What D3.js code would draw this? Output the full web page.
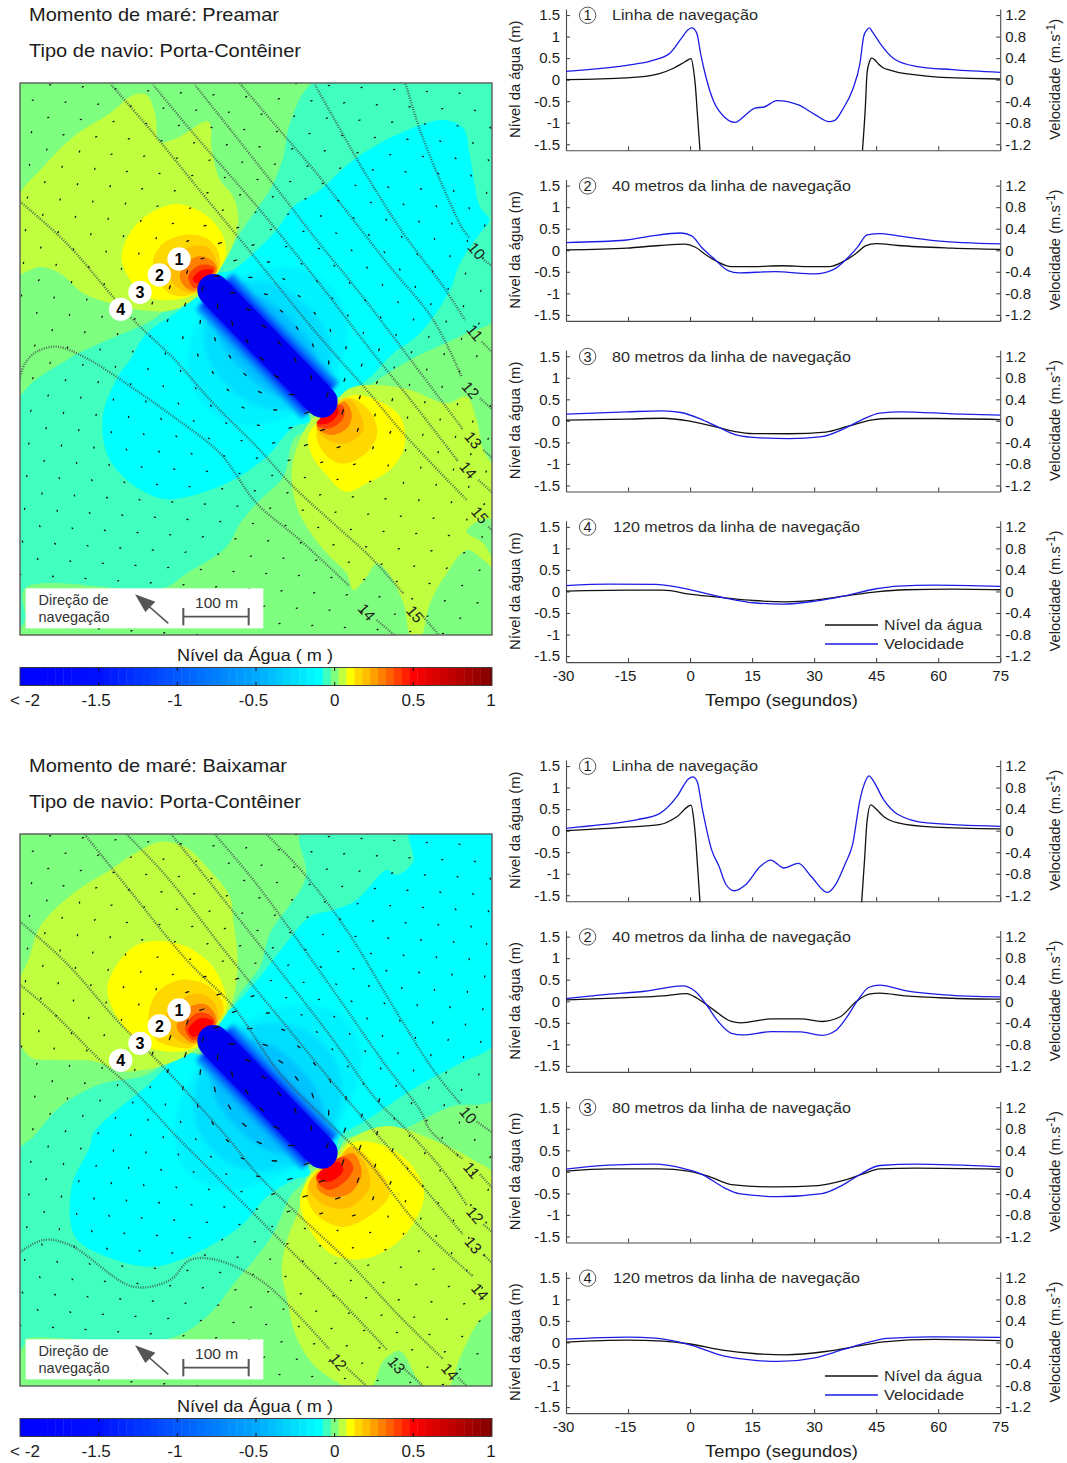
<!DOCTYPE html>
<html>
<head>
<meta charset="utf-8">
<script src="https://cdn.jsdelivr.net/npm/d3@7"></script>
<style>
	body { margin:0; background:#fff; }
	text { font-family:"Liberation Sans", Arial, sans-serif; fill:#1c1c1c; }
	.axis path, .axis line { stroke:#4a4a4a; stroke-width:1.1; }
	.axis text { font-size:15px; fill:#1c1c1c; font-family:"Liberation Sans", Arial, sans-serif; }
</style>
</head>
<body>
<script>
// colour scale of the water level map
var stopValues = [-2, -1.5, -1, -0.5, -0.1, -0.05, 0, 0.05, 0.1, 0.15, 0.2, 0.3, 0.4, 0.5, 0.75, 1];
var stopColors = ["#0000ff","#0010ff","#0058ff","#00a8ff","#00ffff","#3fffbf","#7fff7f","#bfff3f","#ffff00","#ffd800","#ffbf00","#ff8000","#ff4000","#ff0000","#bf0000","#7f0000"];
var barLevels = [-2,-1.95,-1.9,-1.85,-1.8,-1.75,-1.7,-1.65,-1.6,-1.55,-1.5,-1.45,-1.4,-1.35,-1.3,-1.25,-1.2,-1.15,-1.1,-1.05,-1,-0.95,-0.9,-0.85,-0.8,-0.75,-0.7,-0.65,-0.6,-0.55,-0.5,-0.45,-0.4,-0.35,-0.3,-0.25,-0.2,-0.15,-0.1,-0.05,0,0.05,0.1,0.15,0.2,0.25,0.3,0.35,0.4,0.45,0.5,0.55,0.6,0.65,0.7,0.75,0.8,0.85,0.9,0.95];
var barTicks = [-1.5, -1, -0.5, 0, 0.5];
var barLabels = [["< -2",-2],["-1.5",-1.5],["-1",-1],["-0.5",-0.5],["0",0],["0.5",0.5],["1",1]];

var levelTicks = [-1.5,-1,-0.5,0,0.5,1,1.5];
var speedTicks = [-1.2,-0.8,-0.4,0,0.4,0.8,1.2];
var timeTicks = [-30,-15,0,15,30,45,60,75];
var panelNames = ["Linha de navegação","40 metros da linha de navegação","80 metros da linha de navegação","120 metros da linha de navegação"];
var panelNameWidths = [146,239,239,247];

// Preamar series (time in s, level in m, speed in m/s), null = off the chart
var tPre1N = [-30,-15.3,-7.4,-3.9,-1.3,0.25,0.9,1.3,1.7,2.4,null,41.7,42.4,42.8,43.3,43.9,44.6,45.5,46.8,48.1,50.3,54.6,59.9,67.7,75];
var nivelPre1 = [0,0.04,0.14,0.27,0.41,0.49,0.19,-0.155,-0.7,-1.64,null,-1.64,-0.62,0.155,0.39,0.5,0.465,0.37,0.27,0.23,0.17,0.11,0.06,0.03,0.015];
var tPre1V = [-30,-15.3,-9.2,-4.8,-2.2,-0.4,0.4,1.6,2.6,3.9,5.7,8.3,10.9,13.5,15.7,17.9,21,26.2,30.2,33.6,35,37.1,39.3,41.1,42,42.8,43.4,44.1,45.9,49.4,54.6,63.4,75];
var velPre1 = [0.155,0.267,0.353,0.496,0.756,0.93,0.96,0.868,0.465,0.03,-0.403,-0.694,-0.794,-0.65,-0.527,-0.508,-0.39,-0.47,-0.65,-0.78,-0.756,-0.527,-0.186,0.31,0.806,0.93,0.96,0.887,0.68,0.384,0.248,0.186,0.136];

var tPre2N = [-30,-15.3,-7.4,-1.3,1.3,3.9,6.5,10,15.3,22.3,28.4,33.6,37.1,40.2,42.4,45,50.3,63.4,75];
var nivelPre2 = [0.01,0.05,0.11,0.14,0.07,-0.11,-0.26,-0.38,-0.38,-0.36,-0.38,-0.38,-0.26,-0.07,0.1,0.155,0.11,0.05,0.02];
var tPre2V = [-30,-15.3,-9.2,-2.2,0.4,3,5.7,9.2,11.8,20.5,30.2,34.5,38,40.6,42.8,45.9,50.3,59,75];
var velPre2 = [0.143,0.19,0.267,0.32,0.267,0.037,-0.149,-0.378,-0.42,-0.397,-0.44,-0.366,-0.149,0.068,0.285,0.31,0.267,0.18,0.118];

var tPre3N = [-30,-15.3,-6.6,-0.4,6.5,10.9,15.3,24,32.8,38,44.1,48.5,59,75];
var nivelPre3 = [0.015,0.04,0.06,0,-0.147,-0.248,-0.295,-0.3,-0.26,-0.13,0.023,0.054,0.054,0.03];
var tPre3V = [-30,-15.3,-6.6,-2.2,3,7.4,10.9,17,24,31.9,38,41.5,45.9,51.1,63.4,75];
var velPre3 = [0.124,0.167,0.186,0.155,0.019,-0.136,-0.254,-0.316,-0.329,-0.291,-0.118,0.019,0.143,0.167,0.13,0.105];

var tPre4N = [-30,-15.3,-6.6,0.4,8.3,15.3,23.2,30.2,37.1,45,52,63.4,75];
var nivelPre4 = [0.008,0.03,0.03,-0.07,-0.147,-0.21,-0.24,-0.2,-0.11,-0.008,0.04,0.054,0.04];
var tPre4V = [-30,-19.7,-8.3,-2.2,8.3,15.3,22.3,30.2,37.1,45,50.3,59,75];
var velPre4 = [0.11,0.136,0.13,0.068,-0.118,-0.21,-0.236,-0.18,-0.087,0.05,0.1,0.118,0.093];

// Baixamar series
var tBai1N = [-30,-15.3,-7.4,-3.1,0.25,0.9,1.3,1.7,2.4,null,41.5,42.2,42.8,43.7,45,46.8,50.3,59,75];
var nivelBai1 = [0,0.08,0.14,0.33,0.59,0.256,-0.13,-0.67,-1.66,null,-1.66,-0.67,0.217,0.6,0.5,0.33,0.18,0.08,0.04];
var tBai1V = [-30,-21.4,-12.7,-7.4,-3.1,-0.4,0.7,1.7,3,5.2,7,8.7,10.7,13.5,17,19.5,22.7,26.2,29.3,33.2,35.4,37.6,39.3,41.1,42.4,43.3,44.1,46.8,50.3,57.3,75];
var velBai1 = [0.043,0.11,0.205,0.316,0.64,0.96,1,0.918,0.39,-0.353,-0.663,-1,-1.116,-1,-0.663,-0.546,-0.694,-0.608,-0.85,-1.147,-0.973,-0.6,-0.26,0.577,0.918,1.017,0.95,0.577,0.3,0.143,0.08];

var tBai2N = [-30,-15.3,-6.6,-0.9,1.7,5.7,10,12.2,19.7,26.8,31.9,36.3,40.2,43.3,45.9,52,63.4,75];
var nivelBai2 = [0.03,0.085,0.124,0.178,0.07,-0.2,-0.47,-0.5,-0.41,-0.41,-0.47,-0.36,-0.008,0.163,0.19,0.124,0.07,0.047];
var tBai2V = [-30,-21.4,-10.9,-1.8,1.3,3.9,6.5,10,12.7,19.7,26.8,31.9,35.4,38,40.6,43.3,45.9,52,61.6,75];
var velBai2 = [0.05,0.118,0.186,0.285,0.18,-0.056,-0.347,-0.595,-0.626,-0.564,-0.57,-0.632,-0.533,-0.285,0.025,0.26,0.298,0.198,0.118,0.08];

var tBai3N = [-30,-19.7,-7.4,-0.4,4.8,10,20.5,31,37.1,41.5,45.9,54.6,75];
var nivelBai3 = [0.015,0.07,0.07,0.015,-0.116,-0.295,-0.35,-0.318,-0.2,-0.06,0.07,0.085,0.06];
var tBai3V = [-30,-19.7,-8.3,-2.2,3,8.3,11.8,21.4,31.9,37.1,41.5,45.9,54.6,75];
var velBai3 = [0.05,0.124,0.143,0.074,-0.05,-0.298,-0.403,-0.459,-0.403,-0.236,-0.03,0.118,0.143,0.093];

var tBai4N = [-30,-15.3,-6.6,-0.4,8.3,15.3,23.2,32.8,41.5,46.8,59,75];
var nivelBai4 = [0.008,0.054,0.03,-0.03,-0.186,-0.256,-0.287,-0.21,-0.07,0.015,0.07,0.04];
var tBai4V = [-30,-15.3,-8.3,-0.4,8.3,13.5,21.4,30.2,37.1,43.3,47.6,58.1,75];
var velBai4 = [0.062,0.1,0.08,-0.037,-0.254,-0.316,-0.353,-0.285,-0.13,0.006,0.074,0.105,0.093];

// map regions in map grid units
var preTealNorth = [[950,240],[870,370],[850,470],[815,560],[775,620],[720,700],[670,790],[640,830],[1000,1210],[1090,1165],[1230,1080],[1400,1000],[1490,950],[1490,240]];
var preTealSouth = [[590,890],[440,970],[300,1030],[200,1080],[50,1210],[50,1890],[75,1860],[75,1765],[490,1765],[560,1720],[680,1640],[720,1570],[780,1500],[850,1430],[880,1320],[930,1270]];
var preCyanNorth = [[650,825],[700,810],[770,750],[830,690],[880,620],[960,570],[1060,480],[1200,400],[1330,360],[1390,385],[1410,470],[1440,620],[1468,660],[1440,700],[1380,790],[1350,870],[1260,1000],[1180,1060],[1100,1140],[1010,1190]];
var preCyanSouth = [[580,890],[540,930],[440,1000],[390,1080],[360,1120],[310,1240],[320,1360],[380,1440],[480,1495],[540,1495],[680,1450],[800,1370],[880,1280],[930,1260]];
var preLimeNorth = [[50,600],[130,500],[220,410],[330,340],[400,285],[440,285],[465,340],[480,425],[530,415],[625,365],[635,450],[660,540],[700,590],[715,660],[700,730],[670,790],[640,825],[590,890],[520,930],[420,930],[330,910],[250,880],[180,820],[120,800],[50,820]];
var preYellowNorth = [[365,770],[395,690],[450,640],[530,612],[610,640],[665,700],[678,760],[655,815],[590,880],[520,900],[440,890],[390,840]];
var preGoldNorth = [[460,780],[490,730],[550,705],[610,710],[650,745],[660,790],[650,815],[585,880],[520,885],[475,845]];
var preOrangeNorth = [[500,800],[560,745],[620,740],[652,790],[650,815],[582,878],[530,860]];
var preDeepNorth = [[540,820],[590,770],[640,785],[650,812],[582,872],[550,855]];
var preHotNorth = [[565,830],[600,795],[645,805],[585,865]];
var preRedNorth = [[578,838],[605,810],[640,812],[590,850]];
var preLimeSouth = [[930,1265],[885,1360],[875,1430],[890,1520],[940,1610],[990,1670],[1040,1720],[1060,1770],[1100,1730],[1130,1690],[1165,1720],[1210,1810],[1235,1915],[1260,1915],[1290,1810],[1340,1720],[1400,1650],[1450,1680],[1490,1715],[1450,1630],[1400,1595],[1440,1560],[1490,1550],[1490,1420],[1450,1350],[1430,1260],[1400,1190],[1340,1210],[1230,1170],[1130,1155],[1050,1165],[1000,1210]];
var preYellowSouth = [[925,1305],[935,1365],[975,1420],[1035,1475],[1100,1450],[1180,1400],[1215,1330],[1200,1250],[1130,1200],[1060,1185],[1015,1210],[960,1260]];
var preGoldSouth = [[950,1290],[965,1350],[1020,1390],[1085,1370],[1130,1310],[1120,1250],[1070,1200],[1030,1195]];
var preOrangeSouth = [[950,1285],[985,1320],[1040,1330],[1090,1290],[1080,1240],[1050,1200],[1025,1205]];
var preDeepSouth = [[950,1280],[995,1305],[1045,1280],[1055,1240],[1035,1205],[1020,1210]];
var preHotSouth = [[950,1275],[990,1285],[1030,1255],[1030,1220],[1015,1215]];
var preRedSouth = [[950,1270],[985,1270],[1015,1240],[1010,1220]];

var baiTealNorth = [[905,240],[918,377],[810,547],[780,647],[720,727],[670,810],[640,830],[1000,1210],[1040,1162],[1200,1137],[1350,1067],[1490,1037],[1490,240]];
var baiTealSouth = [[580,907],[430,975],[300,1000],[180,1067],[100,1157],[50,1207],[50,1800],[75,1780],[75,1765],[500,1765],[620,1697],[710,1587],[770,1517],[820,1447],[870,1337],[920,1267]];
var baiCyanNorth = [[1230,240],[1240,330],[1190,372],[1160,357],[1070,447],[1000,477],[930,497],[850,587],[780,677],[700,767],[650,810],[1000,1200],[1020,1157],[1100,1107],[1250,1007],[1380,937],[1490,867],[1490,240]];
var baiCyanSouth = [[580,907],[430,1015],[280,1147],[270,1187],[215,1307],[225,1457],[320,1517],[450,1547],[540,1527],[720,1427],[800,1337],[880,1287],[930,1267]];
var baiLimeNorth = [[480,272],[400,310],[330,357],[220,427],[120,527],[85,627],[50,707],[50,847],[90,917],[180,927],[280,930],[360,960],[430,957],[520,932],[585,897],[650,830],[690,767],[710,690],[712,600],[700,510],[690,437],[620,347],[560,290]];
var baiYellowNorth = [[322,707],[360,627],[410,582],[480,569],[560,587],[630,637],[670,707],[680,767],[650,817],[590,887],[520,902],[440,887],[380,837],[335,767]];
var baiGoldNorth = [[445,807],[470,727],[540,687],[620,702],[665,747],[670,787],[650,817],[580,887],[520,887],[470,867]];
var baiOrangeNorth = [[490,817],[530,757],[590,727],[640,752],[655,807],[585,879],[540,872]];
var baiDeepNorth = [[530,827],[570,767],[620,762],[650,812],[582,875],[550,857]];
var baiHotNorth = [[555,832],[590,787],[630,792],[645,817],[580,867]];
var baiRedNorth = [[565,837],[600,802],[640,812],[580,857]];
var baiLimeSouth = [[930,1270],[895,1380],[860,1470],[845,1560],[860,1640],[890,1760],[950,1850],[1060,1915],[1110,1915],[1150,1830],[1200,1800],[1250,1880],[1280,1915],[1340,1915],[1380,1820],[1430,1720],[1490,1650],[1490,1280],[1420,1227],[1300,1167],[1160,1125],[1050,1165],[1000,1220]];
var baiYellowSouth = [[900,1347],[930,1437],[1000,1512],[1100,1522],[1200,1467],[1265,1367],[1270,1307],[1220,1227],[1130,1177],[1050,1177],[1010,1227],[940,1267]];
var baiGoldSouth = [[920,1327],[945,1387],[1020,1427],[1090,1407],[1170,1327],[1120,1237],[1060,1187],[1020,1217],[950,1262]];
var baiOrangeSouth = [[925,1307],[965,1357],[1040,1372],[1110,1307],[1090,1227],[1050,1187],[1015,1222],[950,1265]];
var baiDeepSouth = [[950,1307],[990,1337],[1050,1327],[1085,1267],[1060,1207],[1020,1222]];
var baiHotSouth = [[948,1282],[985,1317],[1040,1287],[1060,1247],[1030,1217]];
var baiRedSouth = [[950,1277],[990,1292],[1030,1257],[1015,1232]];

// depth contours, null marks the gap left for the label
var preDepth10 = [[1215,245],[1260,390],[1320,540],[1390,690],[1410,715],null,[1452,780],[1485,805]];
var preDepth11 = [[945,255],[1010,370],[1090,510],[1210,700],[1330,860],[1395,960],null,[1445,1025],[1485,1065]];
var preDepth12 = [[715,245],[830,380],[950,520],[1060,660],[1170,800],[1300,960],[1385,1130],null,[1440,1195],[1485,1235]];
var preDepth13 = [[585,255],[700,400],[830,565],[950,720],[1080,880],[1240,1090],[1390,1290],null,[1450,1350],[1485,1380]];
var preDepth14a = [[460,255],[580,400],[780,630],[950,840],[1100,1035],[1240,1210],[1375,1385],null,[1435,1440],[1485,1485]];
var preDepth15a = [[330,250],[460,400],[590,560],[730,730],[950,1000],[1100,1170],[1210,1300],[1400,1500],null,[1465,1580],[1485,1600]];
var preDepth15b = [[55,600],[200,730],[330,880],[400,960],[520,1075],[640,1210],[770,1340],[880,1460],[1000,1570],[1110,1670],[1210,1780],null,[1270,1850],[1325,1915]];
var preDepth14b = [[55,1150],[75,1090],[110,1055],[170,1040],[260,1075],[400,1165],[520,1250],[660,1360],[770,1510],[900,1620],[1050,1760],null,[1130,1860],[1195,1915]];
var preDepthLabels = [["10",1430,752],["11",1425,998],["12",1412,1170],["13",1420,1320],["14",1405,1410],["15",1440,1545],["14",1100,1836],["15",1245,1842]];

var baiDepth10 = [[795,245],[920,377],[1040,537],[1180,767],[1300,957],[1380,1057],null,[1430,1112],[1485,1150]];
var baiDepth11 = [[640,245],[760,387],[900,577],[1020,747],[1160,947],[1260,1077],[1290,1137],[1390,1225],null,[1440,1270],[1485,1320]];
var baiDepth12 = [[510,245],[640,407],[830,647],[1000,867],[1130,1047],[1220,1137],[1330,1260],[1400,1362],null,[1450,1420],[1485,1450]];
var baiDepth13 = [[375,245],[500,377],[680,607],[860,827],[1000,997],[1120,1137],[1260,1297],[1390,1452],null,[1450,1510],[1485,1545]];
var baiDepth14a = [[250,245],[380,407],[560,627],[700,767],[840,967],[1010,1137],[1100,1227],[1250,1417],[1420,1577],null,[1475,1640],[1490,1655]];
var baiDepth14b = [[55,507],[200,637],[350,807],[480,937],[680,1157],[770,1267],[880,1377],[1040,1527],[1200,1697],[1330,1825],null,[1375,1880],[1410,1915]];
var baiDepth13b = [[55,697],[150,777],[300,927],[400,1017],[530,1157],[600,1227],[760,1387],[860,1487],[1000,1627],[1160,1795],null,[1215,1855],[1280,1915]];
var baiDepth12b = [[55,1507],[130,1467],[210,1482],[400,1607],[510,1587],[570,1527],[650,1527],[780,1587],[860,1657],[990,1797],null,[1040,1850],[1110,1915]];
var baiDepthLabels = [["10",1405,1092],["11",1415,1257],["12",1425,1392],["13",1420,1482],["14",1440,1622],["12",1015,1832],["13",1190,1842],["14",1350,1862]];

var probeIds = ["1","2","3","4"];
var probeX = [537,478,420,362];
var probeY = [777,825,877,928];
var shipEnds = [[640,870],[965,1205]];
var shipLevels = [-0.5,-0.65,-0.85,-1.1,-1.5];
var shipWidths = [160,148,134,120,108];
var lensLevels = [-0.16,-0.25,-0.38];
var preLensWidths = [260,170,105];
var baiLensWidths = [330,230,130];
var preArrowLen = [4,4.5,3,2,1];
var baiArrowLen = [4.5,5.5,4.5,3,1];

var seriesColor = {nivel:"#111111", vel:"#1c1ce6"};
var colorOf = d3.scaleLinear().domain(stopValues).range(stopColors);

var tidePanels = [
	{dy:0, tide:"Preamar", tideWidth:250, lensWidths:preLensWidths, arrowLen:preArrowLen,
	 regions:[[-0.05,preTealNorth],[-0.05,preTealSouth],[-0.1,preCyanNorth],[-0.1,preCyanSouth],
		[0.05,preLimeNorth],[0.1,preYellowNorth],[0.15,preGoldNorth],[0.2,preOrangeNorth],[0.3,preDeepNorth],[0.4,preHotNorth],[0.5,preRedNorth],
		[0.05,preLimeSouth],[0.1,preYellowSouth],[0.15,preGoldSouth],[0.2,preOrangeSouth],[0.3,preDeepSouth],[0.4,preHotSouth],[0.5,preRedSouth]],
	 depth:[preDepth10,preDepth11,preDepth12,preDepth13,preDepth14a,preDepth15a,preDepth15b,preDepth14b], depthLabels:preDepthLabels,
	 t:[[tPre1N,nivelPre1,tPre1V,velPre1],[tPre2N,nivelPre2,tPre2V,velPre2],[tPre3N,nivelPre3,tPre3V,velPre3],[tPre4N,nivelPre4,tPre4V,velPre4]]},
	{dy:751, tide:"Baixamar", tideWidth:258, lensWidths:baiLensWidths, arrowLen:baiArrowLen,
	 regions:[[-0.05,baiTealNorth],[-0.05,baiTealSouth],[-0.1,baiCyanNorth],[-0.1,baiCyanSouth],
		[0.05,baiLimeNorth],[0.1,baiYellowNorth],[0.15,baiGoldNorth],[0.2,baiOrangeNorth],[0.3,baiDeepNorth],[0.4,baiHotNorth],[0.5,baiRedNorth],
		[0.05,baiLimeSouth],[0.1,baiYellowSouth],[0.15,baiGoldSouth],[0.2,baiOrangeSouth],[0.3,baiDeepSouth],[0.4,baiHotSouth],[0.5,baiRedSouth]],
	 depth:[baiDepth10,baiDepth11,baiDepth12,baiDepth13,baiDepth14a,baiDepth14b,baiDepth13b,baiDepth12b], depthLabels:baiDepthLabels,
	 t:[[tBai1N,nivelBai1,tBai1V,velBai1],[tBai2N,nivelBai2,tBai2V,velBai2],[tBai3N,nivelBai3,tBai3V,velBai3],[tBai4N,nivelBai4,tBai4V,velBai4]]}
];

var svg = d3.select("body").append("svg").attr("width",1067).attr("height",1463).style("display","block");
var defs = svg.append("defs");
function blurFilter(id, dev) {
	defs.append("filter").attr("id",id).attr("filterUnits","userSpaceOnUse")
		.attr("x",0).attr("y",0).attr("width",1067).attr("height",800)
		.append("feGaussianBlur").attr("stdDeviation",dev);
}
blurFilter("soft",0.7);
blurFilter("softer",2.2);
defs.append("clipPath").attr("id","mapclip").append("rect").attr("x",20).attr("y",83).attr("width",472).attr("height",552);

var mapX = d3.scaleLinear().domain([60,1476]).range([20,492]);
var mapY = d3.scaleLinear().domain([249,1905]).range([83,635]);
var x = d3.scaleLinear().domain([-30,75]).range([566,1000.2]);
var barX = d3.scaleLinear().domain([-2,1]).range([20,492]);

var blobPath = d3.line().x(function(d){return mapX(d[0])}).y(function(d){return mapY(d[1])}).curve(d3.curveCatmullRomClosed.alpha(0.5));
var depthPath = d3.line().defined(function(d){return d!==null}).x(function(d){return mapX(d[0])}).y(function(d){return mapY(d[1])}).curve(d3.curveCatmullRom.alpha(0.5));

function fit(sel, w) {
	return sel.attr("textLength",w).attr("lengthAdjust","spacingAndGlyphs");
}

// lens of lower water round the ship, half width given in grid units
function lensPoints(half) {
	var a = shipEnds[0], b = shipEnds[1];
	var cx = (a[0]+b[0])/2, cy = (a[1]+b[1])/2;
	var len = Math.hypot(b[0]-a[0], b[1]-a[1]);
	var ux = (b[0]-a[0])/len, uy = (b[1]-a[1])/len;
	var pts = [[a[0]+ux*10,a[1]+uy*10]];
	[-130,0,130].forEach(function(s){ pts.push([cx+ux*s+uy*half*(s==0?1:0.8), cy+uy*s-ux*half*(s==0?1:0.8)]) });
	pts.push([b[0]-ux*10,b[1]-uy*10]);
	[130,0,-130].forEach(function(s){ pts.push([cx+ux*s-uy*half*(s==0?1:0.8), cy+uy*s+ux*half*(s==0?1:0.8)]) });
	return pts;
}

function drawMap(g, p) {
	var map = g.append("g").attr("clip-path","url(#mapclip)");
	map.append("rect").attr("x",20).attr("y",83).attr("width",472).attr("height",552).attr("fill",colorOf(0));

	var fills = map.append("g").attr("filter","url(#soft)");
	fills.selectAll("path.region").data(p.regions).enter().append("path")
		.attr("class","region")
		.attr("d",function(d){return blobPath(d[1])})
		.attr("fill",function(d){return colorOf(d[0])});

	var a = shipEnds[0], b = shipEnds[1];
	var len = Math.hypot(b[0]-a[0], b[1]-a[1]);
	var ux = (b[0]-a[0])/len, uy = (b[1]-a[1])/len;

	var ship = map.append("g").attr("filter","url(#softer)");
	ship.selectAll("path.lens").data(p.lensWidths).enter().append("path")
		.attr("class","lens")
		.attr("d",function(d){return blobPath(lensPoints(d))})
		.attr("fill",function(d,i){return colorOf(lensLevels[i])});
	var shipLine = d3.line().x(function(d){return mapX(d[0])}).y(function(d){return mapY(d[1])});
	var hull = [[a[0]+ux*5,a[1]+uy*5],[b[0]-ux*5,b[1]-uy*5]];
	ship.selectAll("path.halo").data(shipLevels).enter().append("path")
		.attr("class","halo")
		.attr("d",shipLine(hull))
		.attr("fill","none")
		.attr("stroke",function(d){return colorOf(d)})
		.attr("stroke-width",function(d,i){return mapX(shipWidths[i])-mapX(0)});
	map.append("g").attr("filter","url(#soft)").append("path").attr("d",shipLine(shipEnds)).attr("fill","none").attr("stroke-linecap","round")
		.attr("stroke","#0000f0").attr("stroke-width",mapX(96)-mapX(0));

	// current vectors on a regular model grid
	var lenOf = d3.scaleThreshold().domain([40,90,150,230]).range(p.arrowLen);
	var nodes = d3.cross(d3.range(-20,32), d3.range(-20,32)).map(function(c){
		return [100+c[0]*46+c[1]*52, 300+c[0]*52-c[1]*46];
	}).filter(function(c){ return c[0]>60 && c[0]<1476 && c[1]>249 && c[1]<1905 });
	map.append("g").selectAll("line").data(nodes).enter().append("line")
		.each(function(c){
			var rx = c[0]-a[0], ry = c[1]-a[1];
			var s = Math.max(0, Math.min(len, rx*ux+ry*uy));
			var dist = Math.hypot(rx-ux*s, ry-uy*s);
			var side = (rx*uy-ry*ux) > 0 ? 1 : -1;
			var bend = (s/len-0.5)*2*side*1.1;
			var ang = Math.atan2(uy,ux)+Math.PI+bend;
			var l = lenOf(dist);
			d3.select(this)
				.attr("x1",mapX(c[0])).attr("y1",mapY(c[1]))
				.attr("x2",mapX(c[0])+Math.cos(ang)*l).attr("y2",mapY(c[1])+Math.sin(ang)*l);
		})
		.attr("stroke","#111").attr("stroke-width",1.3).attr("stroke-linecap","round");

	map.append("g").selectAll("path").data(p.depth).enter().append("path")
		.attr("d",depthPath).attr("fill","none")
		.attr("stroke","#3c4a4a").attr("stroke-width",2.4).attr("stroke-dasharray","1 1.4").attr("stroke-opacity",0.8);

	map.append("g").selectAll("text").data(p.depthLabels).enter().append("text")
		.attr("transform",function(d){return "translate("+mapX(d[1])+","+mapY(d[2])+") rotate(50)"})
		.attr("text-anchor","middle").attr("dy","0.36em").attr("font-size",15.5)
		.text(function(d){return d[0]});

	// numbered probes
	var probes = g.append("g").selectAll("g").data(probeIds).enter().append("g")
		.attr("transform",function(d,i){return "translate("+mapX(probeX[i])+","+mapY(probeY[i])+")"});
	probes.append("circle").attr("r",11.7).attr("fill","#fff");
	probes.append("text").attr("text-anchor","middle").attr("dy","0.36em").attr("font-size",16).attr("font-weight","bold")
		.style("fill","#000").text(function(d){return d});

	// caption box with arrow and scale bar
	g.append("rect").attr("x",mapX(77)).attr("y",mapY(1765)).attr("width",mapX(790)-mapX(77)).attr("height",mapY(1885)-mapY(1765)).attr("fill","#fff");
	g.append("text").attr("x",38.5).attr("y",604.5).attr("font-size",14.5).style("fill","#333").text("Direção de");
	g.append("text").attr("x",38.5).attr("y",621.5).attr("font-size",14.5).style("fill","#333").text("navegação");
	var ink = "#555";
	g.append("line").attr("x1",mapX(505)).attr("y1",mapY(1870)).attr("x2",mapX(425)).attr("y2",mapY(1800)).attr("stroke",ink).attr("stroke-width",1.6);
	g.append("path").attr("fill",ink)
		.attr("d","M"+mapX(405)+","+mapY(1783)+"L"+mapX(466)+","+mapY(1805)+"L"+mapX(436)+","+mapY(1836)+"Z");
	g.append("line").attr("x1",mapX(550)).attr("x2",mapX(746)).attr("y1",mapY(1850)).attr("y2",mapY(1850)).attr("stroke",ink).attr("stroke-width",1.6);
	[550,746].forEach(function(u){
		g.append("line").attr("x1",mapX(u)).attr("x2",mapX(u)).attr("y1",mapY(1824)).attr("y2",mapY(1876)).attr("stroke",ink).attr("stroke-width",2);
	});
	g.append("text").attr("x",mapX(650)).attr("y",mapY(1825)).attr("text-anchor","middle").attr("font-size",15.5).style("fill","#333").text("100 m");

	g.append("rect").attr("x",20).attr("y",83).attr("width",472).attr("height",552).attr("fill","none").attr("stroke","#5a5a5a").attr("stroke-width",1.4);
}

function drawBar(g) {
	fit(g.append("text").attr("x",177).attr("y",661).attr("font-size",16.5).text("Nível da Água ( m )"),156);
	g.append("g").selectAll("rect").data(barLevels).enter().append("rect")
		.attr("x",function(d){return barX(d-(d==-2?0:0.025))})
		.attr("y",667.5)
		.attr("width",function(d){return barX(d+0.025)-barX(d-(d==-2?0:0.025))+0.4})
		.attr("height",18)
		.attr("fill",colorOf);
	g.append("rect").attr("x",barX(0.975)).attr("y",667.5).attr("width",barX(1)-barX(0.975)).attr("height",18).attr("fill",colorOf(1));
	g.append("rect").attr("x",20).attr("y",667.5).attr("width",472).attr("height",18).attr("fill","none").attr("stroke","#333").attr("stroke-width",0.9);
	g.append("g").selectAll("path").data(barTicks).enter().append("path")
		.attr("d",function(d){var v=barX(d);return "M"+v+",667.5v3.5M"+v+",685.5v-3.5"})
		.attr("stroke","#111").attr("stroke-width",1);
	g.append("g").selectAll("text").data(barLabels).enter().append("text")
		.attr("x",function(d){return d[1]==-2 ? 25 : d[1]==1 ? 491 : barX(d[1])-(d[1]<0?2.5:0)})
		.attr("y",706).attr("text-anchor","middle").attr("font-size",17)
		.text(function(d){return d[0]});
}

function drawSeries(g, p, idx) {
	var bottom = 150.3+170.6*idx;
	var yL = d3.scaleLinear().domain([-1.64,1.64]).range([bottom,bottom-141.3]);
	var yR = d3.scaleLinear().domain([-1.312,1.312]).range([bottom,bottom-141.3]);
	g.append("g").attr("class","axis").attr("transform","translate(566,0)")
		.call(d3.axisLeft(yL).tickValues(levelTicks).tickSizeInner(-4).tickSizeOuter(0).tickPadding(6).tickFormat(String));
	g.append("g").attr("class","axis").attr("transform","translate(1000.2,0)")
		.call(d3.axisRight(yR).tickValues(speedTicks).tickSizeInner(-4).tickSizeOuter(0).tickPadding(5).tickFormat(String));
	var axB = g.append("g").attr("class","axis").attr("transform","translate(0,"+bottom+")")
		.call(d3.axisBottom(x).tickValues(timeTicks).tickSizeInner(-4).tickSizeOuter(0).tickPadding(8)
			.tickFormat(idx==3 ? String : function(){return ""}));
	if (idx==3) axB.selectAll("text").attr("dx",function(d){return d<0?-3:0});

	var line = function(scale){
		return d3.line().defined(function(d){return d[1]!==null}).x(function(d){return x(d[0])}).y(function(d){return scale(d[1])}).curve(d3.curveMonotoneX);
	};
	var s = p.t[idx];
	g.append("path").attr("d",line(yL)(d3.zip(s[0],s[1]))).attr("fill","none").attr("stroke",seriesColor.nivel).attr("stroke-width",1.3);
	g.append("path").attr("d",line(yR)(d3.zip(s[2],s[3]))).attr("fill","none").attr("stroke",seriesColor.vel).attr("stroke-width",1.3);

	g.append("circle").attr("cx",587.6).attr("cy",bottom-135).attr("r",8.2).attr("fill","#fff").attr("stroke","#444").attr("stroke-width",0.9);
	g.append("text").attr("x",587.6).attr("y",bottom-130).attr("text-anchor","middle").attr("font-size",14.5).text(idx+1);
	fit(g.append("text").attr("x",idx==3?613:612).attr("y",bottom-130).attr("font-size",14.8).style("fill","#2a2a2a").text(panelNames[idx]),panelNameWidths[idx]);

	g.append("text").attr("transform","translate(520,"+(bottom-71)+") rotate(-90)").attr("text-anchor","middle").attr("font-size",14.8).text("Nível da água (m)");
	var rt = g.append("text").attr("transform","translate(1060,"+(bottom-71)+") rotate(-90)").attr("text-anchor","middle").attr("font-size",14.8);
	rt.append("tspan").text("Velocidade (m.s");
	rt.append("tspan").attr("dy",-5).attr("font-size",12).text("-1");
	rt.append("tspan").attr("dy",5).text(")");
}

function drawLegend(g) {
	[["Nível da água",625,seriesColor.nivel,98],["Velocidade",644,seriesColor.vel,80]].forEach(function(l){
		g.append("line").attr("x1",825).attr("x2",878).attr("y1",l[1]).attr("y2",l[1]).attr("stroke",l[2]).attr("stroke-width",1.4);
		fit(g.append("text").attr("x",884).attr("y",l[1]+5).attr("font-size",15).style("fill","#2a2a2a").text(l[0]),l[3]);
	});
	fit(g.append("text").attr("x",705).attr("y",706).attr("font-size",16.5).text("Tempo (segundos)"),153);
}

tidePanels.forEach(function(p){
	var g = svg.append("g").attr("transform","translate(0,"+p.dy+")");
	fit(g.append("text").attr("x",29).attr("y",21).attr("font-size",17.8).text("Momento de maré: "+p.tide),p.tideWidth);
	fit(g.append("text").attr("x",29).attr("y",57).attr("font-size",17.8).text("Tipo de navio: Porta-Contêiner"),272);
	drawMap(g,p);
	drawBar(g);
	d3.range(4).forEach(function(i){ drawSeries(g,p,i) });
	drawLegend(g);
});
</script>
</body>
</html>
